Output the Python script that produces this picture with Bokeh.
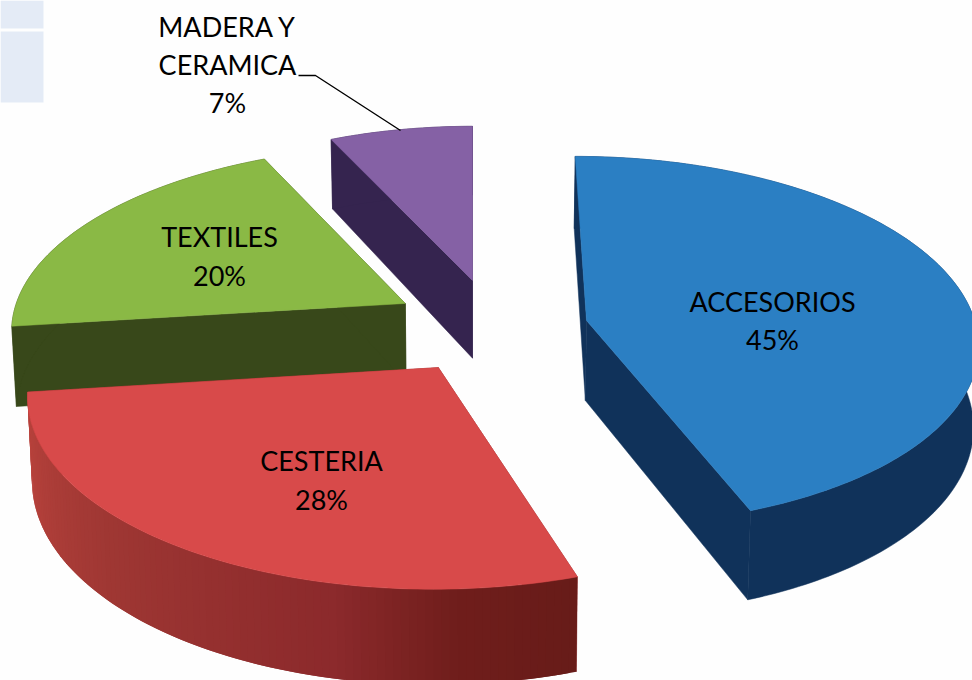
import numpy as np
from bokeh.plotting import figure
from bokeh.embed import file_html
from bokeh.resources import INLINE
from bokeh.core.properties import value

# ---- data ----
categories = ["ACCESORIOS", "CESTERIA", "TEXTILES", "MADERA Y\nCERAMICA"]
values = [45, 28, 20, 7]
percent_labels = ["45%", "28%", "20%", "7%"]

# ---- styles ----
top_colors = ["#2b7fc3", "#d84a4a", "#8ab945", "#8561a5"]
wall_colors = ["#10325a", "#8f2c2c", "#38481a", "#35244f"]
red_wall_stops = [(0.0, (188, 68, 62)), (0.35, (160, 56, 52)), (0.7, (140, 42, 44)), (0.85, (112, 30, 28)), (1.0, (104, 28, 25))]
BG = "#fefefe"
PANEL = "#e4ebf6"

# ---- projection geometry ----
CX, CY = 472.0, 320.0
R, T = 390.0, 0.46
DEPTH = 80.0
SHRINK = 0.99
explode = [(114.0, 0.0), (-33.0, -99.0), (-68.0, 37.5), (0.0, 89.6)]
rx_factor = [0.995, 1.008, 1.01, 0.98]
ry_factor = [1.015, 1.0, 1.02, 1.03]
persp = [0.108, 0.13, 0.13, 0.13]
sweep_scale = [0.985, 1.0, 1.0, 1.0]


def project(i, X, Y, lower=False):
    s = 1.0 / (1.0 + persp[i] / R * Y)
    x = CX + X * s
    y = CY - T * Y * s
    if lower:
        x = CX + (x - CX) * SHRINK
        y = y + DEPTH * s
    return x, y


def arc(i, a0, a1, lower=False):
    n = max(int(abs(a1 - a0)) + 2, 3)
    th = np.radians(a0 + (np.linspace(a0, a1, n) - a0) * sweep_scale[i])
    ex, ey = explode[i]
    return project(i, ex + R * rx_factor[i] * np.sin(th), ey + R * ry_factor[i] * np.cos(th), lower)


def apex(i, lower=False):
    return project(i, np.array([explode[i][0]]), np.array([explode[i][1]]), lower)


total = float(sum(values))
edges = np.concatenate([[0.0], np.cumsum(values) / total * 360.0])

p = figure(width=972, height=680, x_range=(0, 972), y_range=(680, 0),
           toolbar_location=None, output_backend="svg", min_border=0,
           background_fill_color=BG, border_fill_color=BG, outline_line_color=None)
p.axis.visible = False
p.grid.visible = False

# pale panels at the top-left corner
p.quad(left=[0, 0], right=[43, 43], top=[0, 31], bottom=[28, 102], fill_color=PANEL, line_color=None)


def poly(xs, ys, color, edge=True):
    p.patch(list(xs), list(ys), fill_color=color, line_color=color if edge else None, line_width=0.5)


def slice_draw(i):
    a0, a1 = edges[i], edges[i + 1]
    ax, ay = apex(i)
    bx, by = apex(i, True)
    tx, ty = arc(i, a0, a1)
    lx, ly = arc(i, a0, a1, True)
    # radial walls
    poly([ax[0], tx[0], lx[0], bx[0]], [ay[0], ty[0], ly[0], by[0]], wall_colors[i])
    poly([ax[0], tx[-1], lx[-1], bx[0]], [ay[0], ty[-1], ly[-1], by[0]], wall_colors[i])
    # outer wall
    if i == 1:
        n = len(tx)
        stop_t = [s[0] for s in red_wall_stops]
        for j in range(n - 1):
            f = 1 - (j + 0.5) / (n - 1)
            c = [np.interp(f, stop_t, [s[1][k] for s in red_wall_stops]) for k in range(3)]
            col = "#%02x%02x%02x" % tuple(int(v) for v in c)
            e = min(j + 2, n - 1)
            poly([tx[j], tx[e], lx[e], lx[j]], [ty[j], ty[e], ly[e], ly[j]], col, edge=False)
    else:
        poly(np.r_[tx, lx[::-1]], np.r_[ty, ly[::-1]], wall_colors[i])
    # top face
    poly(np.r_[ax, tx], np.r_[ay, ty], top_colors[i])


for i in [3, 2, 1, 0]:
    slice_draw(i)

# leader line
p.line([298, 315, 400], [75, 75, 130], line_color="#000000", line_width=1.4)

# labels
label_xy = [(772, [301, 339]), (321, [460, 499]), (219, [236, 275]), (227, [26, 64, 102])]
for i, (lx, ys) in enumerate(label_xy):
    lines = categories[i].split("\n") + [percent_labels[i]]
    p.text(x=[lx] * len(lines), y=ys, text=lines, text_font=value("Lato"), text_font_size="27px",
           text_align="center", text_baseline="middle", text_color="#000000")

open("out.html", "w").write(file_html(p, INLINE))
